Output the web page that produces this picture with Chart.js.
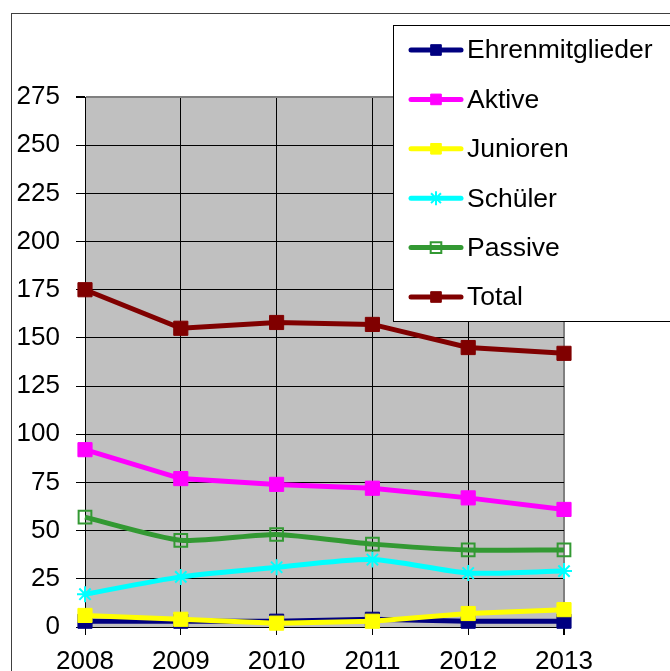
<!DOCTYPE html>
<html><head><meta charset="utf-8">
<script src="https://cdn.jsdelivr.net/npm/chart.js@4/dist/chart.umd.min.js"></script>
<style>html,body{margin:0;padding:0;background:#fff;overflow:hidden}canvas{display:block}</style>
</head><body><canvas id="c" width="670" height="671"></canvas>
<script>
const years = ['2008', '2009', '2010', '2011', '2012', '2013'];
const seriesNames = ['Ehrenmitglieder', 'Aktive', 'Junioren', 'Schüler', 'Passive', 'Total'];
const ehrenmitglieder = [3, 3, 3, 4, 3, 3];
const aktive = [92, 77, 74, 72, 67, 61];
const junioren = [6, 4, 2, 3, 7, 9];
const schueler = [17, 26, 31, 35, 28, 29];
const passive = [57, 45, 48, 43, 40, 40];
const total = [175, 155, 158, 157, 145, 142];
const yMin = 0, yMax = 275, yStep = 25;

const FONT = '"Liberation Sans", Arial, sans-serif';
const colors = ['#000080', '#FF00FF', '#FFFF00', '#00FFFF', '#339933', '#800000'];
const values = [ehrenmitglieder, aktive, junioren, schueler, passive, total];

function mkDataset(i) {
  const c = colors[i];
  const ds = {
    label: seriesNames[i], data: values[i],
    borderColor: c, backgroundColor: c,
    borderWidth: 5, tension: 0,
    pointStyle: 'rect', pointRadius: 10, pointBorderWidth: 1,
    pointBackgroundColor: c, pointBorderColor: c,
    pointHoverRadius: 10,
    clip: false, order: 6 - i
  };
  if (i === 3) { ds.pointStyle = 'star'; ds.pointRadius = 8; ds.pointBorderWidth = 2; ds.tension = 0.25; }
  if (i === 4) { ds.pointRadius = 9; ds.pointBorderWidth = 2; ds.pointBackgroundColor = 'rgba(0,0,0,0)'; ds.tension = 0.2; }
  return ds;
}

const bgPlugin = {
  id: 'bg',
  beforeDraw(chart) {
    const ctx = chart.ctx, a = chart.chartArea;
    ctx.save();
    ctx.fillStyle = '#fff';
    ctx.fillRect(0, 0, chart.width, chart.height);
    ctx.strokeStyle = '#404040';
    ctx.lineWidth = 1;
    ctx.strokeRect(11.5, 13.5, 800, 800);
    ctx.fillStyle = '#C0C0C0';
    ctx.fillRect(a.left, a.top, a.right - a.left, a.bottom - a.top);
    ctx.restore();
  }
};

const legendPlugin = {
  id: 'customLegend',
  afterDraw(chart) {
    const ctx = chart.ctx;
    ctx.save();
    ctx.fillStyle = '#fff';
    ctx.fillRect(393, 25, 300, 296);
    ctx.strokeStyle = '#000';
    ctx.lineWidth = 1;
    ctx.strokeRect(393.5, 25.5, 300, 296);
    chart.data.datasets.forEach((ds, i) => {
      const y = 50 + i * 49.4;
      ctx.strokeStyle = ds.borderColor;
      ctx.lineWidth = 5;
      ctx.lineCap = 'round';
      ctx.beginPath();
      ctx.moveTo(411, y); ctx.lineTo(461, y);
      ctx.stroke();
      ctx.lineCap = 'butt';
      ctx.fillStyle = ds.pointBackgroundColor;
      ctx.strokeStyle = ds.pointBorderColor;
      ctx.lineWidth = ds.pointBorderWidth;
      Chart.helpers.drawPoint(ctx, {pointStyle: ds.pointStyle, radius: ds.pointStyle === 'star' ? 7 : 7.5, rotation: 0, borderWidth: ds.pointBorderWidth}, 436, y);
      ctx.fillStyle = '#000';
      ctx.font = '26.5px ' + FONT;
      ctx.textBaseline = 'middle';
      ctx.textAlign = 'left';
      ctx.fillText(ds.label, 467, y + 1);
    });
    ctx.restore();
  }
};

new Chart(document.getElementById('c'), {
  type: 'line',
  data: { labels: years, datasets: seriesNames.map((_, i) => mkDataset(i)) },
  plugins: [bgPlugin, legendPlugin],
  options: {
    responsive: false, animation: false, devicePixelRatio: 1,
    layout: { padding: { left: 0, right: 106, top: 97, bottom: 0 } },
    plugins: { legend: { display: false }, tooltip: { enabled: false } },
    scales: {
      x: {
        offset: false,
        afterFit(s) { s.height = 44; },
        grid: {
          color: (c) => c.index === years.length - 1 ? '#808080' : '#000',
          lineWidth: (c) => c.index === years.length - 1 ? 2 : 1,
          tickColor: '#000', tickLength: 8, drawTicks: true
        },
        border: { color: '#000', width: 1 },
        ticks: { color: '#000', font: { family: FONT, size: 26 }, padding: 11, maxRotation: 0 }
      },
      y: {
        min: yMin, max: yMax,
        afterFit(s) { s.width = 85; },
        grid: {
          color: (c) => c.tick && c.tick.value === yMax ? '#808080' : '#000',
          lineWidth: (c) => c.tick && c.tick.value === yMax ? 2 : 1,
          tickColor: '#000', tickLength: 9
        },
        border: { color: '#000', width: 1 },
        ticks: { stepSize: yStep, color: '#000', font: { family: FONT, size: 26 }, padding: 16 }
      }
    }
  }
});
</script>
</body></html>
